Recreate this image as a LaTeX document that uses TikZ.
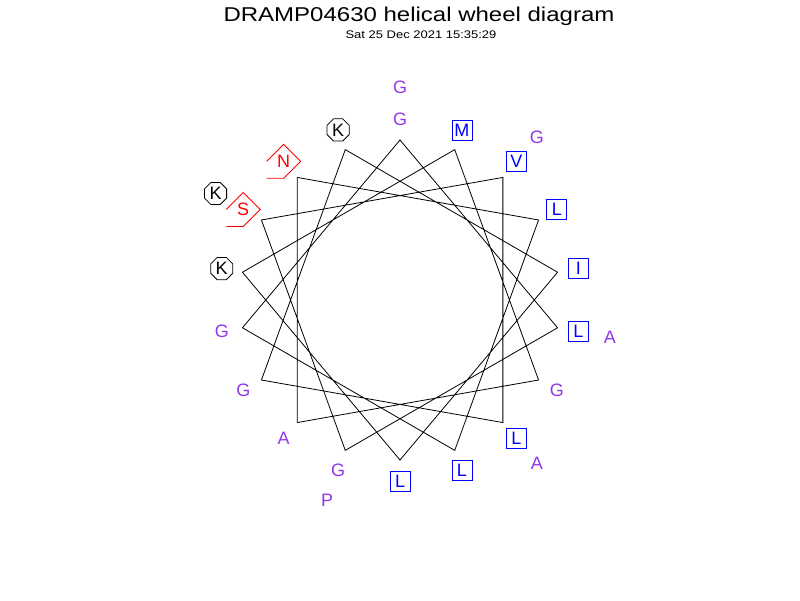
\documentclass[tikz,border=0pt]{standalone}
\usepackage{fontspec}
\setmainfont{Liberation Sans}
\usetikzlibrary{shapes.geometric}
\definecolor{glyviolet}{RGB}{145,55,230}
\tikzset{
  resfont/.style={font=\fontsize{18}{18}\selectfont, inner sep=0pt},
  phob/.style={resfont, draw=blue, text=blue, minimum size=20pt},
  poschg/.style={resfont, draw, regular polygon, regular polygon sides=8, minimum size=24pt},
  phil/.style={resfont, text=red},
  neut/.style={resfont, text=glyviolet}
}
\begin{document}
\begin{tikzpicture}[x=1pt, y=1pt, line width=0.8pt]
      \useasboundingbox (0, 0) rectangle (800, 600);
      \node (title) at (419, 584) {\scalebox{1.2}[1]{\fontsize{20}{20}\selectfont DRAMP04630 helical wheel diagram}};
      \node (date) at (421, 565) {\scalebox{1.18}[1]{\fontsize{11}{11}\selectfont Sat 25 Dec 2021 15:35:29}};
      \begin{scope}[shift={(400, 300)}]
        \foreach \i in {1,...,18}
          \coordinate (v\i) at ({90-100*(\i-1)}:160);
        \draw (v1) \foreach \i in {2,...,18} { -- (v\i) } -- cycle;
        \foreach \res/\kind [count=\i] in {G/neut, L/phob, G/neut, S/phil, V/phob, L/phob,
                                           G/neut, K/poschg, I/phob, L/phob, K/poschg, M/phob,
                                           G/neut, A/neut, N/phil, L/phob, L/phob, G/neut,
                                           G/neut, A/neut, P/neut, K/poschg, G/neut, A/neut} {
          \pgfmathsetmacro\rad{\i > 18 ? 213 : 181}
          \node [\kind] (r\i) at ({90-100*(\i-1)}:\rad) {\res};
        }
        \foreach \n in {r4, r15}
          \draw [red] ([shift={(-17, -17)}]\n.center) -- ++(17, 0) -- ++(17, 17)
                      -- ++(-17, 17) -- ++(-17, -17);
      \end{scope}
\end{tikzpicture}
\end{document}
